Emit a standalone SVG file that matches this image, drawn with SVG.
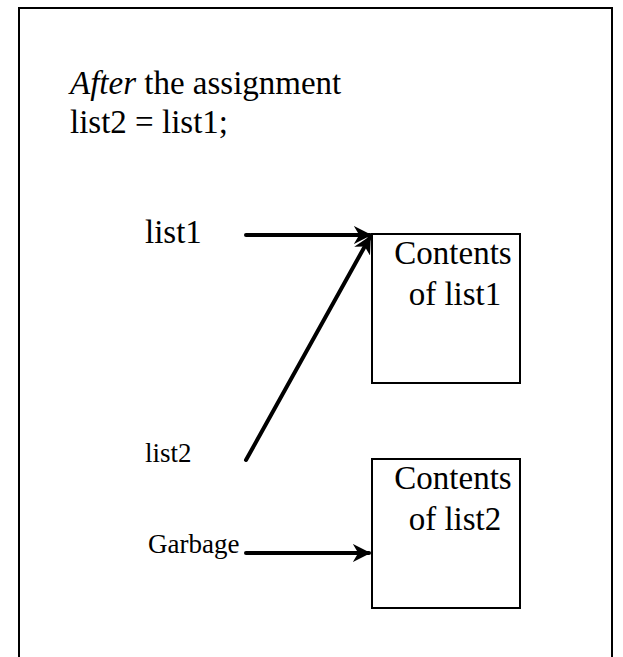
<svg xmlns="http://www.w3.org/2000/svg" width="623" height="657" viewBox="0 0 623 657">
<style>
.t{font-family:"Liberation Serif","Times New Roman",serif;fill:#000}
.big{font-size:33px}
.sm{font-size:27px}
.box{fill:#fff;stroke:#000;stroke-width:2}
.c{fill:none;stroke:#000;stroke-width:4;stroke-linecap:round}
</style>
<defs>
<marker id="ah" viewBox="0 0 10 10" refX="9" refY="5" markerWidth="4.5" markerHeight="4.5" orient="auto" markerUnits="strokeWidth">
<path d="M0,0 L10,5 L0,10 L3,5 Z" fill="#000"/>
</marker>
</defs>
<rect x="19" y="8" width="593" height="660" fill="#fff" stroke="#000" stroke-width="2"/>
<g id="title">
<text class="t big" x="70" y="94"><tspan font-style="italic">After</tspan> the assignment</text>
<text class="t big" x="70" y="133">list2 = list1;</text>
</g>
<g id="box1">
<rect class="box" x="372" y="234" width="148" height="149"/>
<text class="t big" x="453" y="264" text-anchor="middle">Contents</text>
<text class="t big" x="455" y="305" text-anchor="middle">of list1</text>
</g>
<g id="box2">
<rect class="box" x="372" y="459" width="148" height="149"/>
<text class="t big" x="453" y="489" text-anchor="middle">Contents</text>
<text class="t big" x="455" y="530" text-anchor="middle">of list2</text>
</g>
<g id="label-list1"><text class="t big" x="145" y="243">list1</text></g>
<g id="label-list2"><text class="t sm" x="145" y="462">list2</text></g>
<g id="label-garbage"><text class="t sm" x="148" y="553">Garbage</text></g>
<g id="connectors">
<line class="c" x1="246" y1="235" x2="370" y2="235" marker-end="url(#ah)"/>
<line class="c" x1="246" y1="460" x2="370" y2="237" marker-end="url(#ah)"/>
<line class="c" x1="246" y1="553" x2="369" y2="553" marker-end="url(#ah)"/>
</g>
</svg>
